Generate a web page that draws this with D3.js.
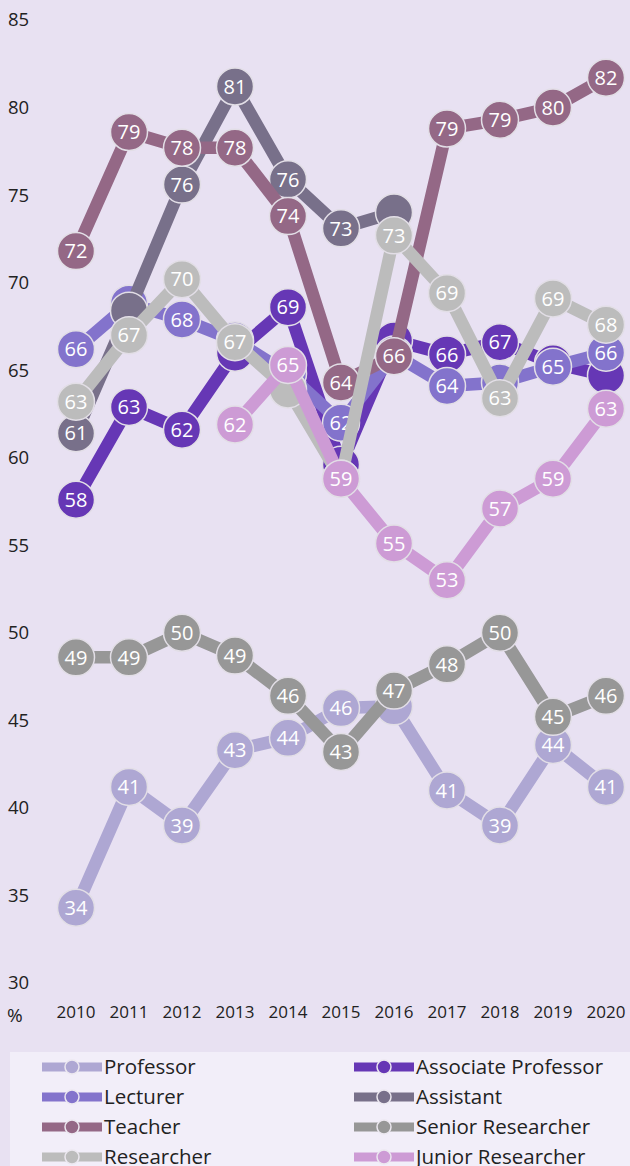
<!DOCTYPE html>
<html>
<head>
<meta charset="utf-8">
<script src="https://cdn.jsdelivr.net/npm/d3@7"></script>
<style>
  html, body { margin: 0; padding: 0; background: #e8e1f2; }
  svg { display: block; font-family: "Open Sans", "Noto Sans", sans-serif; }
</style>
</head>
<body>
<div id="chart"></div>
<script>
const years = [2010, 2011, 2012, 2013, 2014, 2015, 2016, 2017, 2018, 2019, 2020]
const yTicks = [30, 35, 40, 45, 50, 55, 60, 65, 70, 75, 80, 85]

const professor = [34.3, 41.2, 39.0, 43.3, 44.0, 45.7, 45.8, 41.0, 39.0, 43.6, 41.2]
const associateProfessor = [57.6, 62.9, 61.6, 66.0, 68.6, 59.6, 66.7, 65.9, 66.6, 65.4, 64.7]
const lecturer = [66.2, 68.8, 67.9, 66.7, 64.8, 62.0, 65.9, 64.1, 64.3, 65.2, 66.0]
const assistant = [61.4, 68.4, 75.6, 81.2, 75.9, 73.1, 74.0, null, null, null, null]
const teacher = [71.8, 78.6, 77.7, 77.7, 73.8, 64.3, 65.8, 78.8, 79.3, 80.0, 81.7]
const seniorResearcher = [48.6, 48.6, 50.0, 48.7, 46.4, 43.2, 46.7, 48.2, 50.0, 45.2, 46.4]
const researcher = [63.2, 67.0, 70.2, 66.6, 63.9, 58.8, 72.7, 69.4, 63.4, 69.1, 67.6]
const juniorResearcher = [null, null, null, 61.9, 65.3, 58.8, 55.1, 53.0, 57.1, 58.8, 62.8]

const seriesNames = ['Professor', 'Associate Professor', 'Lecturer', 'Assistant',
    'Teacher', 'Senior Researcher', 'Researcher', 'Junior Researcher']
const seriesValues = [professor, associateProfessor, lecturer, assistant,
    teacher, seniorResearcher, researcher, juniorResearcher]
const colors = ['#aea7d3', '#6637b5', '#8373cc', '#78708a',
    '#946886', '#979797', '#bcbcbc', '#cd9bd5']

const width = 630
const height = 1166

const svg = d3.select('#chart')
    .append('svg')
    .attr('width', width)
    .attr('height', height)

svg.append('rect')
    .attr('width', width).attr('height', height)
    .attr('fill', '#e8e1f2')

const x = d3.scalePoint()
    .domain(years)
    .range([76, 606])

const y = d3.scaleLinear()
    .domain([30, 85])
    .range([983, 20])

// y tick labels
svg.append('g')
    .selectAll('text')
    .data(yTicks)
    .join('text')
    .attr('x', 8)
    .attr('y', d => y(d))
    .attr('dy', '0.35em')
    .attr('fill', '#222')
    .style('font-size', '18.5px')
    .text(d => d)

// x tick labels
svg.append('g')
    .selectAll('text')
    .data(years)
    .join('text')
    .attr('x', d => x(d))
    .attr('y', 1012)
    .attr('dy', '0.35em')
    .attr('text-anchor', 'middle')
    .attr('fill', '#222')
    .style('font-size', '17px')
    .text(d => d)

svg.append('text')
    .attr('x', 7).attr('y', 1015)
    .attr('dy', '0.35em')
    .attr('fill', '#222')
    .style('font-size', '19px')
    .text('%')

const line = d3.line()
    .defined(d => d.v != null)
    .x(d => x(d.year))
    .y(d => y(d.v))

// a label is left out when a series drawn later puts its dot on top of it
const covered = (i, j) => {
    const v = seriesValues[i][j]
    for (let k = i + 1; k < seriesValues.length; k++) {
        const w = seriesValues[k][j]
        if (w != null && Math.abs(y(v) - y(w)) < 27) return true
    }
    return false
}

seriesNames.forEach((name, i) => {
    const pts = years.map((yr, j) => ({ year: yr, v: seriesValues[i][j], j: j }))
    const g = svg.append('g')

    g.append('path')
        .datum(pts)
        .attr('d', line)
        .attr('fill', 'none')
        .attr('stroke', colors[i])
        .attr('stroke-width', 12.5)
        .attr('stroke-linejoin', 'round')

    const dots = g.selectAll('g.dot')
        .data(pts.filter(d => d.v != null))
        .join('g')
        .attr('class', 'dot')
        .attr('transform', d => `translate(${x(d.year)},${y(d.v)})`)

    dots.append('circle')
        .attr('r', 18.5)
        .attr('fill', colors[i])
        .attr('stroke', '#e2dee6')
        .attr('stroke-width', 1.5)

    dots.filter(d => !covered(i, d.j))
        .append('text')
        .attr('text-anchor', 'middle')
        .attr('dy', '0.36em')
        .attr('fill', '#fff')
        .style('font-size', '20px')
        .text(d => d3.format('.0f')(d.v))
})

// legend
svg.append('rect')
    .attr('x', 10).attr('y', 1052)
    .attr('width', 620).attr('height', 120)
    .attr('fill', '#f2eef9')

const legend = svg.append('g')
    .selectAll('g')
    .data(seriesNames)
    .join('g')
    .attr('transform', (d, i) => `translate(${i % 2 === 0 ? 42 : 354},${1067 + Math.floor(i / 2) * 30})`)

legend.append('line')
    .attr('x1', 0).attr('x2', 60)
    .attr('stroke', (d, i) => colors[i])
    .attr('stroke-width', 9)

legend.append('circle')
    .attr('cx', 30)
    .attr('r', 7)
    .attr('fill', (d, i) => colors[i])
    .attr('stroke', '#ece8f0')
    .attr('stroke-width', 1.5)

legend.append('text')
    .attr('x', 62)
    .attr('dy', '0.35em')
    .attr('fill', '#222')
    .style('font-size', '20.5px')
    .text(d => d)
</script>
</body>
</html>
